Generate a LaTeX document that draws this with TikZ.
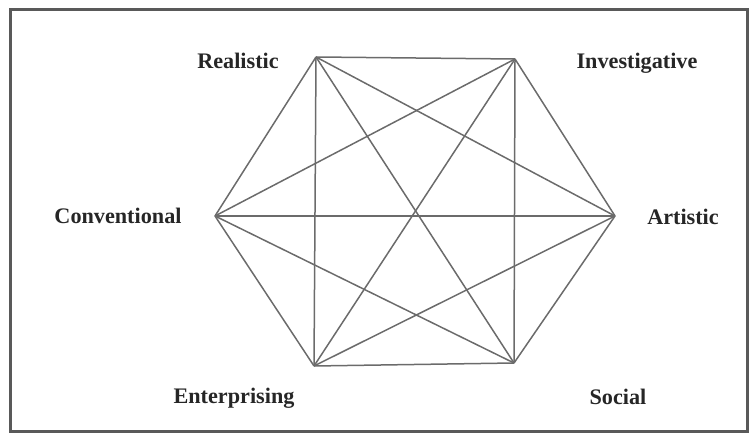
\documentclass[tikz,border=0pt]{standalone}
\usepackage{fontspec}
\setmainfont{Liberation Serif}
\begin{document}
\begin{tikzpicture}[x=1pt,y=-1pt,
  edge/.style={draw=black!58,line width=1.5pt},
  lbl/.style={font=\fontsize{22.2}{26}\selectfont\bfseries,text=black!85,inner sep=0pt},
  frame/.style={draw=black!65,line width=3pt}]
\useasboundingbox (0,0) rectangle (751,435);
\draw[frame] (10,10) rectangle (747,431);
\coordinate (R) at (316,57);
\coordinate (I) at (515,59);
\coordinate (A) at (615,216);
\coordinate (S) at (514,363);
\coordinate (E) at (314,366);
\coordinate (C) at (215,216);
\foreach \a/\b in {R/I,R/A,R/S,R/E,R/C,I/A,I/S,I/E,I/C,A/S,A/E,A/C,S/E,S/C,E/C}
  \draw[edge] (\a) -- (\b);
\node[lbl] (lR) at (238,61) {Realistic};
\node[lbl] (lI) at (637,63) {Investigative};
\node[lbl] (lA) at (683,217) {Artistic};
\node[lbl] (lS) at (618,397) {Social};
\node[lbl] (lE) at (234,398) {Enterprising};
\node[lbl] (lC) at (118,216) {Conventional};
\end{tikzpicture}
\end{document}
